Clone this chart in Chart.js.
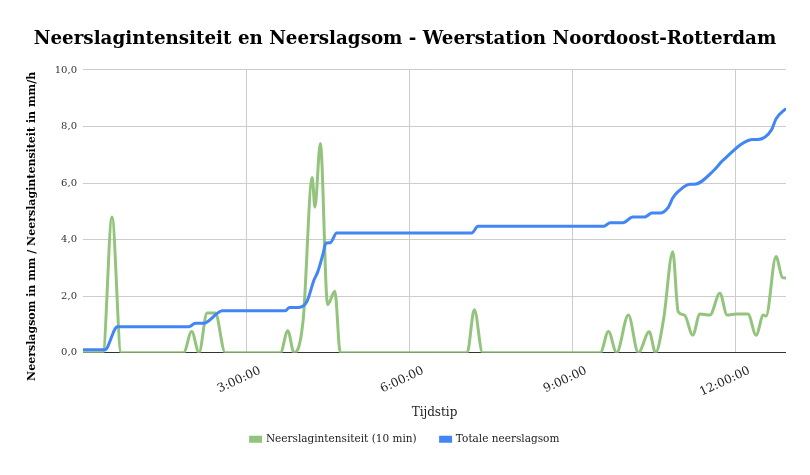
<!DOCTYPE html>
<html>
<head>
<meta charset="utf-8">
<script src="https://cdn.jsdelivr.net/npm/chart.js@4.4.1/dist/chart.umd.min.js"></script>
<style>
html, body { margin: 0; padding: 0; background: #fff; }
#wrap { width: 810px; height: 475px; }
</style>
</head>
<body>
<div id="wrap"><canvas id="rainChart"></canvas></div>
<script>
// Tijdstippen (u:mm) en waarden
const intensityTimes = ["0:00", "0:22", "0:32", "0:42", "1:51", "2:00", "2:08", "2:17", "2:26", "2:37",
    "3:38", "3:46", "3:53", "4:03", "4:13", "4:16", "4:22", "4:30", "4:38", "4:44",
    "7:04", "7:12", "7:21", "9:31", "9:40", "9:49", "10:02", "10:13", "10:25", "10:32",
    "10:41", "10:51", "10:57", "11:04", "11:13", "11:21", "11:32", "11:43", "11:51", "12:01",
    "12:14", "12:23", "12:31", "12:34", "12:45", "12:52", "12:56"];
const intensityValues = [0, 0, 4.8, 0, 0, 0.75, 0, 1.4, 1.4, 0,
    0, 0.78, 0, 1.15, 6.2, 5.15, 7.4, 1.7, 2.17, 0,
    0, 1.52, 0, 0, 0.75, 0, 1.33, 0, 0.74, 0,
    1.21, 3.57, 1.45, 1.33, 0.62, 1.37, 1.33, 2.1, 1.33, 1.37,
    1.37, 0.62, 1.33, 1.3, 3.4, 2.66, 2.64];

const totalTimes = ["0:00", "0:24", "0:38", "1:57", "2:04", "2:13", "2:34", "3:43", "3:48", "3:58",
    "4:07", "4:15", "4:19", "4:25", "4:28", "4:33", "4:40", "7:09", "7:16", "9:35",
    "9:42", "9:56", "10:07", "10:20", "10:28", "10:37", "10:46", "10:51", "10:56", "11:10",
    "11:15", "11:37", "11:46", "12:20", "12:25", "12:40", "12:45", "12:56"];
const totalValues = [0.1, 0.1, 0.92, 0.92, 1.04, 1.04, 1.48, 1.48, 1.6, 1.6,
    1.8, 2.57, 2.85, 3.5, 3.87, 3.89, 4.23, 4.23, 4.47, 4.47,
    4.6, 4.6, 4.8, 4.8, 4.94, 4.94, 5.14, 5.47, 5.67, 5.96,
    5.96, 6.47, 6.79, 7.54, 7.54, 7.88, 8.27, 8.64];

const xTickHours = [3, 6, 9, 12];
const yMax = 10;
const yTitle = 'Neerslagsom in mm / Neerslagintensiteit in mm/h';

const serif = "'DejaVu Serif', 'Liberation Serif', serif";

function toMinutes(t) {
    const [h, m] = t.split(':').map(Number);
    return h * 60 + m;
}

function toPoints(times, values) {
    return times.map((t, i) => ({ x: toMinutes(t), y: values[i] }));
}

const lastMinute = toMinutes(intensityTimes[intensityTimes.length - 1]);

// y-as titel iets onder het midden, zoals in het origineel
const yTitlePlugin = {
    id: 'yTitle',
    afterDraw(chart) {
        const { ctx, chartArea } = chart;
        ctx.save();
        ctx.translate(32, (chartArea.top + chartArea.bottom) / 2 + 15);
        ctx.rotate(-Math.PI / 2);
        ctx.font = 'bold 11px ' + serif;
        ctx.fillStyle = '#000';
        ctx.textAlign = 'center';
        ctx.textBaseline = 'middle';
        ctx.fillText(yTitle, 0, 0);
        ctx.restore();
    }
};

const ctx = document.getElementById('rainChart').getContext('2d');

let chart = new Chart(ctx, {
    type: 'line',
    data: {
        datasets: [
            {
                label: 'Neerslagintensiteit (10 min)',
                data: toPoints(intensityTimes, intensityValues),
                borderColor: '#93c47d',
                backgroundColor: '#93c47d',
                borderWidth: 3,
                pointRadius: 0,
                cubicInterpolationMode: 'monotone',
                order: 2
            },
            {
                label: 'Totale neerslagsom',
                data: toPoints(totalTimes, totalValues),
                borderColor: '#4285f4',
                backgroundColor: '#4285f4',
                borderWidth: 3,
                pointRadius: 0,
                cubicInterpolationMode: 'monotone',
                order: 1
            }
        ]
    },
    options: {
        responsive: true,
        maintainAspectRatio: false,
        animation: false,
        layout: { padding: { left: 24, right: 24, top: 0, bottom: 30 } },
        plugins: {
            title: {
                display: true,
                text: 'Neerslagintensiteit en Neerslagsom - Weerstation Noordoost-Rotterdam',
                color: '#000',
                font: { family: serif, size: 18.3, weight: 'bold' },
                padding: { top: 28, bottom: 20 }
            },
            legend: {
                position: 'bottom',
                maxHeight: 35,
                labels: {
                    color: '#222',
                    font: { family: serif, size: 10.5 },
                    boxWidth: 10,
                    boxHeight: 4,
                    padding: 24,
                    sort: (a, b) => a.datasetIndex - b.datasetIndex
                }
            },
            tooltip: { enabled: false }
        },
        scales: {
            x: {
                type: 'linear',
                min: 0,
                max: lastMinute,
                afterBuildTicks: axis => {
                    axis.ticks = xTickHours.map(h => ({ value: h * 60 }));
                },
                afterFit: scale => { scale.height = 57.3; },
                ticks: {
                    autoSkip: false,
                    maxRotation: 25,
                    minRotation: 25,
                    padding: 11,
                    labelOffset: 14,
                    color: '#222',
                    font: { family: serif, size: 12 },
                    callback: v => (v / 60) + ':00:00'
                },
                grid: { color: '#cccccc', drawTicks: false },
                border: { display: false },
                title: {
                    display: true,
                    text: 'Tijdstip',
                    color: '#222',
                    font: { family: serif, size: 12 },
                    padding: { top: 0, bottom: -10.2 }
                }
            },
            y: {
                min: 0,
                max: yMax,
                afterFit: scale => { scale.width = 59; },
                ticks: {
                    stepSize: 2,
                    padding: 6,
                    color: '#333',
                    font: { family: serif, size: 10 },
                    callback: v => v.toFixed(1).replace('.', ',')
                },
                grid: {
                    drawTicks: false,
                    color: c => (c.tick && c.tick.value === 0 ? '#333333' : '#cccccc')
                },
                border: { display: false }
            }
        }
    },
    plugins: [yTitlePlugin]
});
</script>
</body>
</html>
